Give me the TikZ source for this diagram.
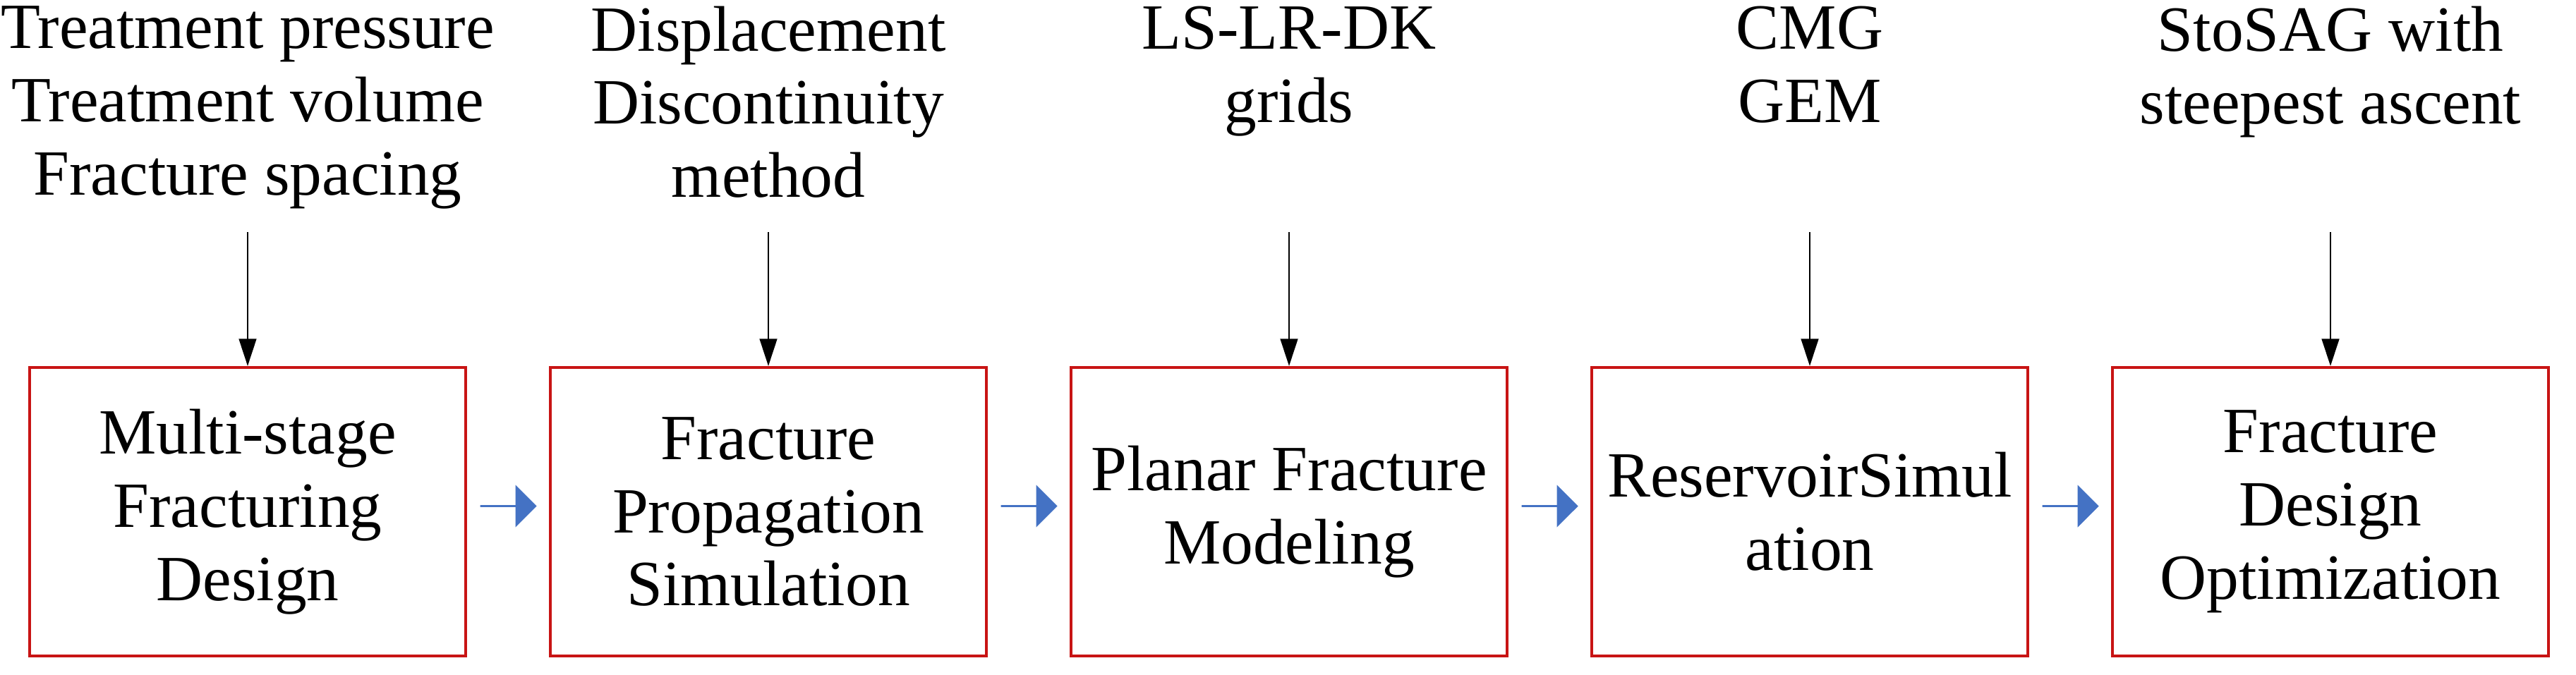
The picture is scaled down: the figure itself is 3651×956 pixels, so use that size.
\documentclass[tikz,border=0pt]{standalone}
\usepackage{fontspec}
\setmainfont{Liberation Serif}
\usetikzlibrary{arrows.meta,shapes.arrows,calc}
\begin{document}
\begin{tikzpicture}[x=0.01cm,y=-0.01cm,
 box/.style={draw={rgb,255:red,200;green,20;blue,20},line width=1.1pt,minimum width=6.18cm,minimum height=4.09cm,align=center,font=\fontsize{26}{29.5}\selectfont,inner sep=0pt},
 lab/.style={align=center,font=\fontsize{26}{29.5}\selectfont,anchor=north,inner sep=0pt},
 down/.style={-{Triangle[length=11pt,width=7pt]},line width=0.8pt},
 blk/.style={single arrow,fill={rgb,255:red,68;green,114;blue,196},draw=none,minimum height=0.8cm,minimum width=0.6cm,single arrow head extend=0.15cm,inner sep=0pt,shape border rotate=0}]
\useasboundingbox (0,0) rectangle (3651,956);
\foreach \i/\x/\b/\t in {1/351/{Multi-stage\\Fracturing\\Design}/{Treatment pressure\\Treatment volume\\Fracture spacing},
 2/1089/{Fracture\\Propagation\\Simulation}/{Displacement\\Discontinuity\\method},
 3/1827/{Planar Fracture\\Modeling}/{LS-LR-DK\\grids},
 4/2565/{ReservoirSimul\\ation}/{CMG\\GEM},
 5/3303/{Fracture\\Design\\Optimization}/{StoSAG with\\steepest ascent}}{
 \node[box] (b\i) at (\x,725.5) {\b};
 \node[lab] (t\i) at (\x,8) {\t};
 \coordinate (s\i) at (\x,329);
 \draw[down] (s\i) -- (b\i.north);
}
\foreach \i/\j in {1/2,2/3,3/4,4/5}{
 \node[blk] (a\i) at ($(b\i.east)!0.5!(b\j.west)+(0,-8)$) {};
}
\end{tikzpicture}
\end{document}
